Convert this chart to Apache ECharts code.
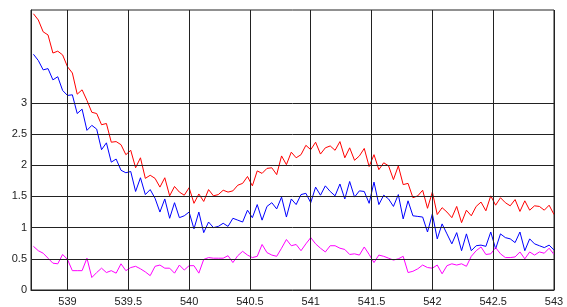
<!DOCTYPE html>
<html>
<head>
<meta charset="utf-8">
<script src="https://cdn.jsdelivr.net/npm/echarts@6/dist/echarts.min.js"></script>
<style>
html,body{margin:0;padding:0;background:#fff;}
#c{width:567px;height:307px;}
</style>
</head>
<body>
<div id="c"></div>
<script>
// sample positions (x)
var xValues = [
538.72,538.76,538.80,538.84,538.88,538.92,538.96,539.00,539.04,539.08,
539.12,539.16,539.20,539.24,539.28,539.32,539.36,539.40,539.44,539.48,
539.52,539.56,539.60,539.64,539.68,539.72,539.76,539.80,539.84,539.88,
539.92,539.96,540.00,540.04,540.08,540.12,540.16,540.20,540.24,540.28,
540.32,540.36,540.40,540.44,540.48,540.52,540.56,540.60,540.64,540.68,
540.72,540.76,540.80,540.84,540.88,540.92,540.96,541.00,541.04,541.08,
541.12,541.16,541.20,541.24,541.28,541.32,541.36,541.40,541.44,541.48,
541.52,541.56,541.60,541.64,541.68,541.72,541.76,541.80,541.84,541.88,
541.92,541.96,542.00,542.04,542.08,542.12,542.16,542.20,542.24,542.28,
542.32,542.36,542.40,542.44,542.48,542.52,542.56,542.60,542.64,542.68,
542.72,542.76,542.80,542.84,542.88,542.92,542.96,543.00
];
var redValues = [
4.43,4.33,4.14,4.09,3.80,3.83,3.77,3.58,3.48,3.14,
3.21,3.04,2.85,2.83,2.65,2.67,2.37,2.38,2.33,2.17,
2.24,1.96,2.12,1.79,1.84,1.79,1.65,1.80,1.51,1.66,
1.57,1.52,1.64,1.39,1.54,1.42,1.61,1.51,1.53,1.60,
1.57,1.59,1.68,1.71,1.82,1.67,1.91,1.87,1.95,1.96,
1.85,2.15,2.01,2.21,2.12,2.17,2.32,2.25,2.37,2.18,
2.28,2.31,2.24,2.38,2.12,2.28,2.08,2.15,2.27,1.98,
2.17,1.93,2.04,1.99,1.77,1.99,1.69,1.71,1.48,1.51,
1.60,1.31,1.57,1.21,1.32,1.25,1.16,1.34,1.08,1.28,
1.19,1.34,1.41,1.27,1.51,1.36,1.48,1.40,1.35,1.45,
1.26,1.43,1.28,1.35,1.34,1.28,1.36,1.21
];
var blueValues = [
3.78,3.68,3.53,3.55,3.37,3.42,3.20,3.12,3.13,2.83,
2.90,2.56,2.64,2.58,2.25,2.36,2.05,2.10,1.92,1.88,
1.90,1.58,1.80,1.53,1.61,1.47,1.25,1.46,1.15,1.40,
1.16,1.19,1.25,0.98,1.25,0.92,1.09,1.00,1.02,1.07,
1.02,1.15,1.12,1.09,1.28,1.16,1.37,1.12,1.34,1.40,
1.30,1.49,1.17,1.46,1.37,1.53,1.55,1.40,1.65,1.52,
1.67,1.58,1.51,1.70,1.46,1.74,1.49,1.59,1.58,1.39,
1.73,1.37,1.52,1.46,1.34,1.53,1.14,1.43,1.19,1.18,
1.17,0.93,1.22,0.82,1.06,0.90,0.74,0.92,0.63,0.90,
0.63,0.71,0.72,0.70,0.93,0.66,0.90,0.84,0.82,0.76,
0.93,0.63,0.82,0.74,0.71,0.68,0.72,0.64
];
var magentaValues = [
0.70,0.63,0.59,0.51,0.43,0.42,0.57,0.49,0.31,0.31,
0.31,0.51,0.20,0.28,0.35,0.28,0.31,0.27,0.42,0.31,
0.36,0.38,0.34,0.29,0.23,0.38,0.40,0.35,0.35,0.27,
0.40,0.32,0.39,0.39,0.27,0.49,0.52,0.51,0.51,0.51,
0.55,0.44,0.55,0.62,0.56,0.52,0.54,0.73,0.60,0.56,
0.54,0.67,0.81,0.71,0.73,0.63,0.74,0.84,0.74,0.67,
0.61,0.71,0.71,0.67,0.65,0.57,0.58,0.56,0.69,0.57,
0.44,0.56,0.54,0.51,0.48,0.50,0.54,0.28,0.30,0.34,
0.40,0.36,0.35,0.40,0.26,0.39,0.42,0.40,0.42,0.38,
0.54,0.63,0.69,0.57,0.58,0.68,0.58,0.52,0.52,0.53,
0.61,0.50,0.61,0.56,0.61,0.59,0.67,0.57
];
var xTicks = [539, 539.5, 540, 540.5, 541, 541.5, 542, 542.5, 543];
var yTicks = [0, 0.5, 1, 1.5, 2, 2.5, 3];

function pairs(vals) {
  return vals.map(function (v, i) { return [xValues[i], v]; });
}

var gridLines = [];
xTicks.forEach(function (t) { gridLines.push({ xAxis: t }); });
yTicks.forEach(function (t) { if (t > 0) gridLines.push({ yAxis: t }); });

var chart = echarts.init(document.getElementById('c'), null, { renderer: 'canvas' });
chart.setOption({
  animation: false,
  backgroundColor: '#ffffff',
  textStyle: { fontFamily: 'Liberation Sans, Arial, sans-serif' },
  grid: {
    left: 31, right: 13, top: 10, bottom: 16,
    show: true, borderColor: '#222', borderWidth: 1, backgroundColor: 'transparent'
  },
  xAxis: {
    type: 'value', min: 538.70, max: 543,
    axisLine: { show: true, onZero: false, lineStyle: { color: '#222', width: 1 } },
    axisTick: { show: false },
    splitLine: { show: false },
    axisLabel: {
      customValues: xTicks, color: '#222', fontSize: 11, margin: 6,
      fontFamily: 'Liberation Sans, Arial, sans-serif',
      formatter: function (v) { return String(v); }
    }
  },
  yAxis: {
    type: 'value', min: 0, max: 4.49,
    axisLine: { show: true, lineStyle: { color: '#222', width: 1 } },
    axisTick: { show: false },
    splitLine: { show: false },
    axisLabel: {
      customValues: yTicks, color: '#222', fontSize: 11, margin: 4,
      fontFamily: 'Liberation Sans, Arial, sans-serif',
      formatter: function (v) { return String(v); }
    }
  },
  series: [
    {
      type: 'line', name: 'grid', data: [], silent: true, z: 1,
      markLine: {
        silent: true, symbol: 'none', animation: false,
        label: { show: false },
        lineStyle: { color: '#222', width: 1, type: 'solid' },
        emphasis: { disabled: true },
        data: gridLines
      }
    },
    {
      type: 'line', name: 'red', data: pairs(redValues), showSymbol: false, z: 3,
      lineStyle: { color: '#ff0000', width: 1 }, itemStyle: { color: '#ff0000' }
    },
    {
      type: 'line', name: 'blue', data: pairs(blueValues), showSymbol: false, z: 3,
      lineStyle: { color: '#0000ff', width: 1 }, itemStyle: { color: '#0000ff' }
    },
    {
      type: 'line', name: 'magenta', data: pairs(magentaValues), showSymbol: false, z: 3,
      lineStyle: { color: '#ff00ff', width: 1 }, itemStyle: { color: '#ff00ff' }
    }
  ]
});
</script>
</body>
</html>
